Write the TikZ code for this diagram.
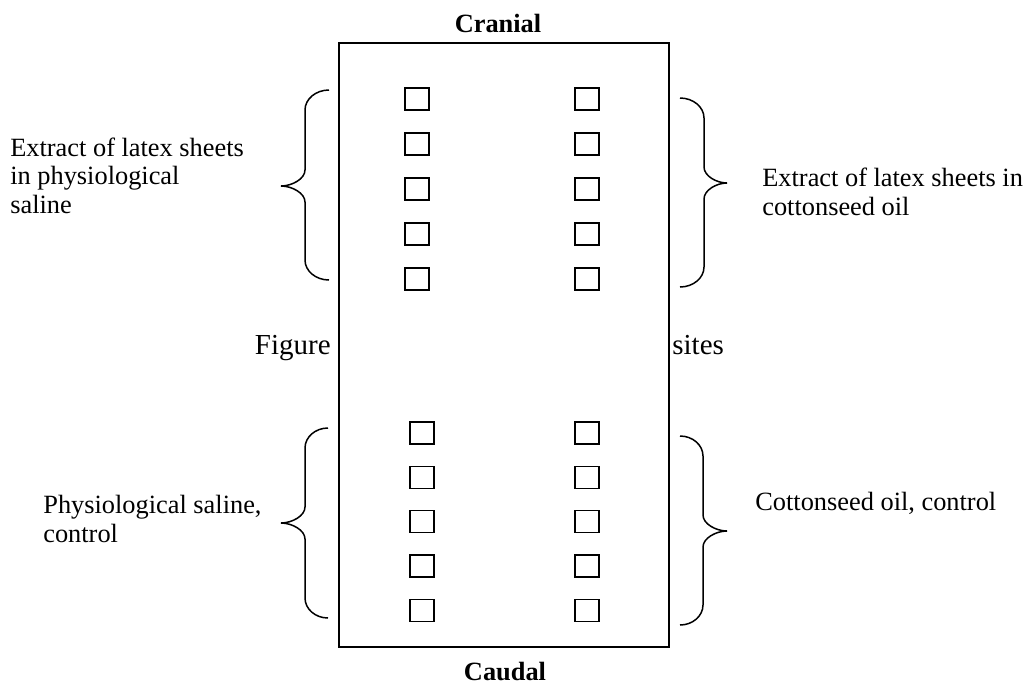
\documentclass[tikz,border=0pt]{standalone}
\usepackage{fontspec}
\setmainfont{Liberation Serif}
\usepackage{tikz}
\usetikzlibrary{positioning}

\begin{document}
\begin{tikzpicture}
[x=0.2mm,y=-0.2mm,
every node/.style={inner sep=0pt,font=\fontsize{15}{16}\selectfont},
site/.style={draw,line width=0.7pt,minimum width=4.8mm,minimum height=4.4mm},
grouptext/.style={anchor=base west,align=left},
endtext/.style={anchor=base,font=\fontsize{15}{16}\selectfont\bfseries},
bracepath/.style={line width=0.85pt}]
\useasboundingbox (0,0) rectangle (1026,683);
%% skin area
\draw[line width=1.1pt] (339,43) rectangle (669,647);
\node[endtext] (cranial) at (498,32) {Cranial};
\node[endtext] (caudal) at (505,680) {Caudal};
\node[anchor=base east,font=\fontsize{16.5}{18}\selectfont] (fig) at (331,354) {Figure};
\node[anchor=base west,font=\fontsize{16.5}{18}\selectfont] (sites) at (672,354) {sites};
%% injection sites
\foreach \i in {1,...,5}
{
	\node[site] (ul\i) at (417,{99+45*(\i-1)}) {};
	\node[site] (ur\i) at (587,{99+45*(\i-1)}) {};
	\node[site] (ll\i) at (422,{433+44.3*(\i-1)}) {};
	\node[site] (lr\i) at (587,{433+44.3*(\i-1)}) {};
}
%% braces
\foreach \ex/\sx/\tx/\top/\tip/\bot in {329/305/281/90/186/280,328/305/281/428/523/618,680/704/727/98/183/287,680/703/727/436/531/625}
{
	\draw[bracepath] (\ex,\top) .. controls ({0.45*\ex+0.55*\sx},\top) and (\sx,\top+9) .. (\sx,\top+20)
	-- (\sx,\tip-16) .. controls (\sx,\tip-7) and ({0.45*\sx+0.55*\tx},\tip) .. (\tx,\tip)
	.. controls ({0.45*\sx+0.55*\tx},\tip) and (\sx,\tip+7) .. (\sx,\tip+16)
	-- (\sx,\bot-20) .. controls (\sx,\bot-9) and ({0.45*\ex+0.55*\sx},\bot) .. (\ex,\bot);
}
%% groups (base = last line)
\node[grouptext] (saline-ext) at (10,213) {Extract of latex sheets\\in physiological\\saline};
\node[grouptext] (oil-ext) at (762,215) {Extract of latex sheets in\\cottonseed oil};
\node[grouptext] (saline-ctl) at (43,542) {Physiological saline,\\control};
\node[grouptext] (oil-ctl) at (755,510) {Cottonseed oil, control};
\end{tikzpicture}
\end{document}
